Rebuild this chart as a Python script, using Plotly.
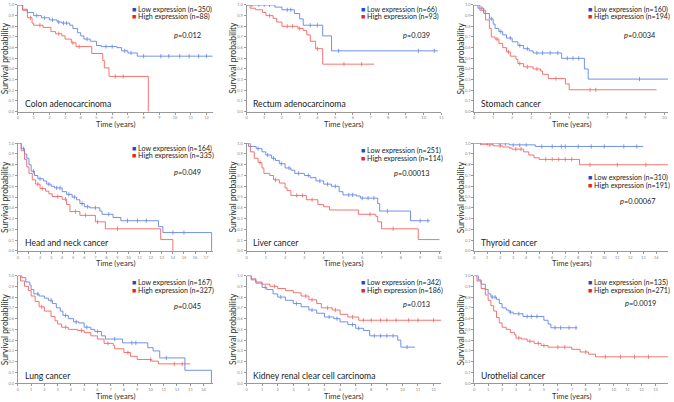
import plotly.graph_objects as go

# ---------------- data ----------------
cancers = ['Colon adenocarcinoma', 'Rectum adenocarcinoma', 'Stomach cancer',
           'Head and neck cancer', 'Liver cancer', 'Thyroid cancer',
           'Lung cancer', 'Kidney renal clear cell carcinoma', 'Urothelial cancer']
n_low = [350, 66, 160, 164, 251, 310, 167, 342, 135]
n_high = [88, 93, 194, 335, 114, 191, 327, 186, 271]
p_values = ['0.012', '0.039', '0.0034', '0.049', '0.00013', '0.00067', '0.045', '0.013', '0.0019']
x_max = [12.4, 11.0, 10.2, 17.6, 10.1, 14.9, 14.7, 12.5, 13.9]

# colon
colon_low_t = [0, 0.3, 0.6, 1.0, 1.5, 2.0, 2.5, 2.8, 3.3, 3.5, 3.8, 4.0, 4.2, 4.6, 5.0, 5.3, 6.3, 6.6, 7.0, 7.6, 12.4]
colon_low_s = [1.0, 0.96, 0.93, 0.90, 0.88, 0.86, 0.84, 0.83, 0.81, 0.78, 0.74, 0.71, 0.68, 0.66, 0.62, 0.61, 0.60, 0.57, 0.55, 0.52, 0.52]
colon_high_t = [0, 0.3, 0.6, 0.9, 1.0, 1.6, 2.1, 2.4, 2.8, 3.0, 3.4, 3.7, 4.7, 5.4, 5.5, 5.8, 8.3]
colon_high_s = [1.0, 0.95, 0.88, 0.83, 0.81, 0.79, 0.75, 0.73, 0.71, 0.68, 0.645, 0.61, 0.545, 0.48, 0.41, 0.33, 0.0]
colon_low_c = [1.2, 1.7, 2.2, 2.6, 2.9, 3.1, 4.4, 5.6, 6.0, 6.8, 7.2, 8.0, 9.1, 9.6, 10.3, 10.9, 11.5, 12.0]
colon_high_c = [0.8, 1.4, 2.6, 3.5, 3.9, 6.2, 6.7]

# rectum
rectum_low_t = [0, 1.6, 2.0, 2.7, 3.0, 3.2, 4.3, 4.8, 10.8]
rectum_low_s = [1.0, 0.98, 0.955, 0.92, 0.87, 0.81, 0.71, 0.57, 0.57]
rectum_high_t = [0, 0.2, 0.5, 0.9, 1.1, 1.5, 1.7, 2.0, 2.9, 3.2, 3.4, 3.6, 3.9, 4.3, 7.2]
rectum_high_s = [1.0, 0.97, 0.955, 0.93, 0.90, 0.875, 0.84, 0.80, 0.78, 0.76, 0.72, 0.66, 0.59, 0.445, 0.445]
rectum_low_c = [0.3, 0.7, 1.0, 1.3, 2.3, 2.5, 3.6, 4.0, 5.2, 9.7, 10.6]
rectum_high_c = [1.3, 2.3, 2.6, 3.0, 4.0, 5.5, 6.5]

# stomach
stomach_low_t = [0, 0.2, 0.5, 0.8, 1.0, 1.1, 1.3, 1.5, 1.7, 2.0, 2.3, 2.6, 2.9, 3.1, 4.6, 5.8, 6.0, 10.2]
stomach_low_s = [1.0, 0.97, 0.92, 0.87, 0.82, 0.78, 0.75, 0.72, 0.69, 0.655, 0.62, 0.59, 0.57, 0.55, 0.50, 0.40, 0.305, 0.305]
stomach_high_t = [0, 0.3, 0.6, 0.8, 0.9, 1.1, 1.3, 1.5, 1.7, 1.9, 2.2, 2.3, 2.6, 3.1, 3.5, 3.6, 3.9, 4.8, 5.0, 9.6]
stomach_high_s = [1.0, 0.95, 0.86, 0.78, 0.70, 0.68, 0.64, 0.60, 0.56, 0.52, 0.49, 0.45, 0.42, 0.40, 0.38, 0.35, 0.31, 0.26, 0.205, 0.205]
stomach_low_c = [0.4, 0.9, 1.4, 1.9, 2.4, 2.8, 3.3, 3.6, 4.0, 4.4, 4.9, 5.2, 5.5, 8.7]
stomach_high_c = [0.5, 1.2, 1.8, 2.4, 2.8, 3.3, 4.3, 6.1, 6.4]

# head and neck
hn_low_t = [0, 0.3, 0.6, 0.8, 1.0, 1.2, 1.5, 1.8, 2.3, 2.6, 3.0, 3.3, 4.0, 4.4, 4.9, 5.3, 5.6, 6.0, 6.5, 7.4, 7.6, 8.6, 9.3, 12.7, 13.1, 17.5, 17.5]
hn_low_s = [1.0, 0.95, 0.90, 0.86, 0.80, 0.74, 0.70, 0.67, 0.65, 0.62, 0.60, 0.585, 0.55, 0.525, 0.50, 0.475, 0.44, 0.41, 0.40, 0.37, 0.34, 0.31, 0.28, 0.225, 0.17, 0.17, 0.0]
hn_high_t = [0, 0.3, 0.6, 0.8, 1.0, 1.3, 1.6, 2.0, 2.5, 2.8, 3.1, 4.0, 4.4, 4.7, 5.6, 7.0, 7.9, 12.9, 14.0]
hn_high_s = [1.0, 0.93, 0.85, 0.78, 0.72, 0.66, 0.62, 0.58, 0.555, 0.53, 0.505, 0.48, 0.43, 0.365, 0.33, 0.27, 0.205, 0.105, 0.0]
hn_low_c = [0.5, 1.4, 2.0, 2.8, 3.5, 3.8, 4.6, 5.1, 5.8, 6.3, 7.0, 8.2, 9.9, 10.8, 11.6, 14.0, 15.0]
hn_high_c = [1.8, 2.2, 3.6, 4.3, 5.2, 6.1, 7.2, 9.0]

# liver
liver_low_t = [0, 0.1, 0.5, 0.8, 1.0, 1.3, 1.5, 1.7, 2.0, 2.3, 2.5, 3.0, 3.3, 3.6, 4.0, 4.4, 4.8, 5.0, 5.7, 5.9, 6.8, 6.9, 8.5, 9.5]
liver_low_s = [1.0, 0.97, 0.95, 0.92, 0.89, 0.86, 0.84, 0.81, 0.77, 0.75, 0.72, 0.70, 0.68, 0.65, 0.62, 0.60, 0.55, 0.52, 0.51, 0.49, 0.44, 0.37, 0.28, 0.28]
liver_high_t = [0, 0.2, 0.4, 0.6, 0.8, 0.9, 1.2, 1.4, 1.7, 2.0, 2.1, 2.3, 3.1, 3.7, 4.0, 4.3, 5.8, 6.7, 6.8, 7.0, 8.9, 10.0]
liver_high_s = [1.0, 0.92, 0.86, 0.82, 0.77, 0.72, 0.70, 0.66, 0.63, 0.585, 0.56, 0.515, 0.475, 0.43, 0.41, 0.38, 0.34, 0.32, 0.27, 0.205, 0.105, 0.105]
liver_low_c = [0.6, 1.1, 1.4, 1.8, 2.2, 2.7, 3.2, 3.8, 4.2, 4.6, 5.3, 5.5, 6.0, 6.3, 6.6, 7.3, 9.0, 9.4]
liver_high_c = [0.7, 1.5, 2.6, 2.9, 3.4, 6.4, 7.6]

# thyroid
thy_low_t = [0, 1.8, 2.7, 4.7, 13.0]
thy_low_s = [1.0, 0.995, 0.985, 0.97, 0.97]
thy_high_t = [0, 0.5, 1.0, 1.5, 2.2, 2.7, 2.9, 3.8, 4.2, 4.6, 5.0, 8.1, 14.9]
thy_high_s = [1.0, 0.99, 0.985, 0.975, 0.965, 0.955, 0.945, 0.92, 0.89, 0.865, 0.85, 0.80, 0.80]
thy_low_c = [0.5, 1.0, 1.4, 2.0, 2.4, 3.0, 3.5, 4.0, 5.2, 6.0, 6.7, 7.0, 8.0, 9.0, 10.0, 11.5, 12.5]
thy_high_c = [1.2, 2.0, 3.2, 3.6, 5.5, 6.0, 6.5, 7.0, 7.5, 8.9, 11.0, 13.2]

# lung
lung_low_t = [0, 0.3, 0.6, 0.9, 1.0, 1.2, 1.6, 2.0, 2.3, 2.6, 2.9, 3.2, 3.4, 3.8, 4.2, 4.6, 5.0, 5.5, 5.8, 6.3, 6.6, 7.9, 9.8, 10.2, 10.7, 12.6, 14.6, 14.6]
lung_low_s = [1.0, 0.98, 0.94, 0.91, 0.87, 0.83, 0.81, 0.79, 0.77, 0.74, 0.70, 0.67, 0.63, 0.60, 0.57, 0.56, 0.52, 0.50, 0.48, 0.44, 0.41, 0.375, 0.33, 0.30, 0.235, 0.12, 0.12, 0.0]
lung_high_t = [0, 0.2, 0.5, 0.8, 1.0, 1.3, 1.6, 2.0, 2.5, 2.8, 3.0, 3.3, 3.8, 4.5, 5.0, 5.5, 6.0, 6.5, 7.2, 7.3, 8.0, 8.5, 9.0, 10.1, 10.6, 13.0]
lung_high_s = [1.0, 0.95, 0.90, 0.86, 0.81, 0.76, 0.71, 0.67, 0.62, 0.58, 0.55, 0.52, 0.50, 0.49, 0.47, 0.44, 0.41, 0.37, 0.35, 0.32, 0.285, 0.25, 0.22, 0.205, 0.18, 0.18]
lung_low_c = [1.5, 2.5, 3.6, 4.4, 5.2, 6.0, 7.3, 8.6, 8.9, 11.2]
lung_high_c = [1.8, 3.6, 4.8, 6.8, 8.3, 10.0, 11.8, 12.4]

# kidney
kid_low_t = [0, 0.3, 0.6, 1.0, 1.3, 1.7, 2.0, 2.5, 3.0, 3.5, 4.0, 4.5, 5.0, 5.6, 6.0, 6.5, 7.0, 7.5, 7.9, 9.7, 9.9, 10.8]
kid_low_s = [1.0, 0.96, 0.93, 0.89, 0.87, 0.83, 0.80, 0.77, 0.74, 0.71, 0.68, 0.65, 0.615, 0.60, 0.57, 0.545, 0.51, 0.49, 0.44, 0.40, 0.335, 0.335]
kid_high_t = [0, 0.3, 0.6, 1.0, 1.5, 2.0, 2.5, 3.0, 3.5, 4.0, 4.5, 4.8, 5.5, 6.0, 6.5, 7.2, 12.5]
kid_high_s = [1.0, 0.97, 0.94, 0.92, 0.90, 0.88, 0.86, 0.84, 0.81, 0.775, 0.74, 0.70, 0.68, 0.64, 0.615, 0.585, 0.585]
kid_low_c = [1.2, 2.2, 3.2, 4.2, 5.3, 5.8, 6.8, 7.2, 8.2, 8.6, 9.0, 9.4, 10.3]
kid_high_c = [1.8, 3.8, 4.2, 5.2, 5.7, 6.8, 7.5, 8.0, 8.6, 9.0, 9.6, 10.4, 11.0, 12.0]

# urothelial
uro_low_t = [0, 0.3, 0.5, 0.8, 1.0, 1.2, 1.6, 1.8, 2.0, 2.3, 2.5, 2.8, 3.5, 5.0, 5.3, 5.5, 7.4]
uro_low_s = [1.0, 0.96, 0.92, 0.87, 0.83, 0.80, 0.78, 0.74, 0.70, 0.68, 0.66, 0.645, 0.62, 0.585, 0.55, 0.515, 0.515]
uro_high_t = [0, 0.2, 0.5, 0.8, 1.0, 1.2, 1.4, 1.6, 1.8, 2.0, 2.3, 2.6, 2.9, 3.0, 3.4, 3.8, 4.3, 4.8, 5.3, 7.0, 7.6, 8.2, 8.7, 13.9]
uro_high_s = [1.0, 0.95, 0.88, 0.82, 0.77, 0.72, 0.67, 0.61, 0.56, 0.52, 0.50, 0.47, 0.45, 0.42, 0.41, 0.39, 0.37, 0.35, 0.335, 0.315, 0.29, 0.27, 0.245, 0.245]
uro_low_c = [1.3, 1.5, 2.6, 3.2, 3.8, 4.1, 4.5, 5.8, 6.2, 6.8, 7.3]
uro_high_c = [3.2, 4.0, 4.6, 5.0, 6.0, 6.5, 8.0, 9.4, 10.5, 11.5, 12.5]

low_curves = [(colon_low_t, colon_low_s, colon_low_c), (rectum_low_t, rectum_low_s, rectum_low_c),
              (stomach_low_t, stomach_low_s, stomach_low_c), (hn_low_t, hn_low_s, hn_low_c),
              (liver_low_t, liver_low_s, liver_low_c), (thy_low_t, thy_low_s, thy_low_c),
              (lung_low_t, lung_low_s, lung_low_c), (kid_low_t, kid_low_s, kid_low_c),
              (uro_low_t, uro_low_s, uro_low_c)]
high_curves = [(colon_high_t, colon_high_s, colon_high_c), (rectum_high_t, rectum_high_s, rectum_high_c),
               (stomach_high_t, stomach_high_s, stomach_high_c), (hn_high_t, hn_high_s, hn_high_c),
               (liver_high_t, liver_high_s, liver_high_c), (thy_high_t, thy_high_s, thy_high_c),
               (lung_high_t, lung_high_s, lung_high_c), (kid_high_t, kid_high_s, kid_high_c),
               (uro_high_t, uro_high_s, uro_high_c)]

# legend / p-value positions inside each panel (axis-domain fractions)
legend_y = [0.96, 0.96, 0.96, 0.955, 0.93, 0.68, 0.935, 0.935, 0.935]
p_y = [0.71, 0.71, 0.71, 0.73, 0.72, 0.455, 0.71, 0.73, 0.74]

# ---------------- layout ----------------
W, H = 674, 402
col_px = [(17, 213), (247, 443), (476, 671)]
row_px = [(2, 110), (142, 251), (276, 385)]

BLUE_LINE = '#6384e4'
RED_LINE = '#f26562'
BLUE_SQ = '#1f4cc0'
RED_SQ = '#e62520'
FONT = 'Lato'


def surv_at(ts, ss, t):
    val = ss[0]
    for ti, si in zip(ts, ss):
        if ti <= t:
            val = si
    return val


fig = go.Figure()
layout = dict(width=W, height=H, margin=dict(l=0, r=0, t=0, b=0),
              paper_bgcolor='white', plot_bgcolor='white', showlegend=False,
              font=dict(family=FONT, color='#333'))
annotations = []

for i in range(9):
    r, c = divmod(i, 3)
    k = '' if i == 0 else str(i + 1)
    xa, ya = 'x' + k, 'y' + k
    x0, x1 = col_px[c]
    y0, y1 = row_px[r]
    layout['xaxis' + k] = dict(domain=[x0 / W, x1 / W], range=[0, x_max[i]], anchor=ya,
                               dtick=1, tick0=0, showline=True, linecolor='#999', linewidth=0.8,
                               ticks='outside', ticklen=2, tickcolor='#999', showgrid=False,
                               zeroline=False, tickfont=dict(size=4, color='#888'))
    layout['yaxis' + k] = dict(domain=[1 - y1 / H, 1 - y0 / H], range=[0, 1.0], anchor=xa,
                               dtick=0.1, tickformat='.1f', showline=True, linecolor='#999', linewidth=0.8,
                               ticks='outside', ticklen=2, tickcolor='#999', showgrid=False,
                               zeroline=False, tickfont=dict(size=4, color='#888'))

    for (ts, ss, cs), col in [(low_curves[i], BLUE_LINE), (high_curves[i], RED_LINE)]:
        fig.add_trace(go.Scatter(x=ts, y=ss, mode='lines', line=dict(color=col, width=0.9, shape='hv'),
                                 xaxis=xa, yaxis=ya, hoverinfo='skip'))
        fig.add_trace(go.Scatter(x=cs, y=[surv_at(ts, ss, t) for t in cs], mode='markers',
                                 marker=dict(symbol='line-ns-open', size=3, color=col,
                                             line=dict(color=col, width=0.8)),
                                 xaxis=xa, yaxis=ya, hoverinfo='skip'))

    # axis titles
    annotations.append(dict(xref=xa + ' domain', yref=ya + ' domain', x=0.5, y=0, yshift=-13,
                            xanchor='center', yanchor='middle', showarrow=False,
                            text='Time (years)', font=dict(size=7.5, color='#333')))
    annotations.append(dict(xref=xa + ' domain', yref=ya + ' domain', x=0, y=0.5, xshift=-13,
                            xanchor='center', yanchor='middle', showarrow=False, textangle=-90,
                            text='Survival probability', font=dict(size=8.5, color='#333')))
    # legend
    annotations.append(dict(xref=xa + ' domain', yref=ya + ' domain', x=0.575, y=legend_y[i],
                            xanchor='left', yanchor='middle', showarrow=False,
                            text=f"<span style='color:{BLUE_SQ}'>■</span> Low expression (n={n_low[i]})",
                            font=dict(size=7.1, color='#222')))
    annotations.append(dict(xref=xa + ' domain', yref=ya + ' domain', x=0.575, y=legend_y[i] - 0.072,
                            xanchor='left', yanchor='middle', showarrow=False,
                            text=f"<span style='color:{RED_SQ}'>■</span> High expression (n={n_high[i]})",
                            font=dict(size=7.1, color='#222')))
    annotations.append(dict(xref=xa + ' domain', yref=ya + ' domain', x=0.95, y=p_y[i],
                            xanchor='right', yanchor='middle', showarrow=False,
                            text=f"<i>p</i>={p_values[i]}", font=dict(size=7.4, color='#222')))
    annotations.append(dict(xref=xa + ' domain', yref=ya + ' domain', x=0.025, y=0.07,
                            xanchor='left', yanchor='middle', showarrow=False,
                            text=cancers[i], font=dict(size=8.6, color='#222')))

layout['annotations'] = annotations
fig.update_layout(**layout)
# the page body has a default 8px margin; drop it so the figure sits at the window corner
fig.write_html("out.html", config={'displayModeBar': False},
               post_script="document.body.style.margin='0';")
